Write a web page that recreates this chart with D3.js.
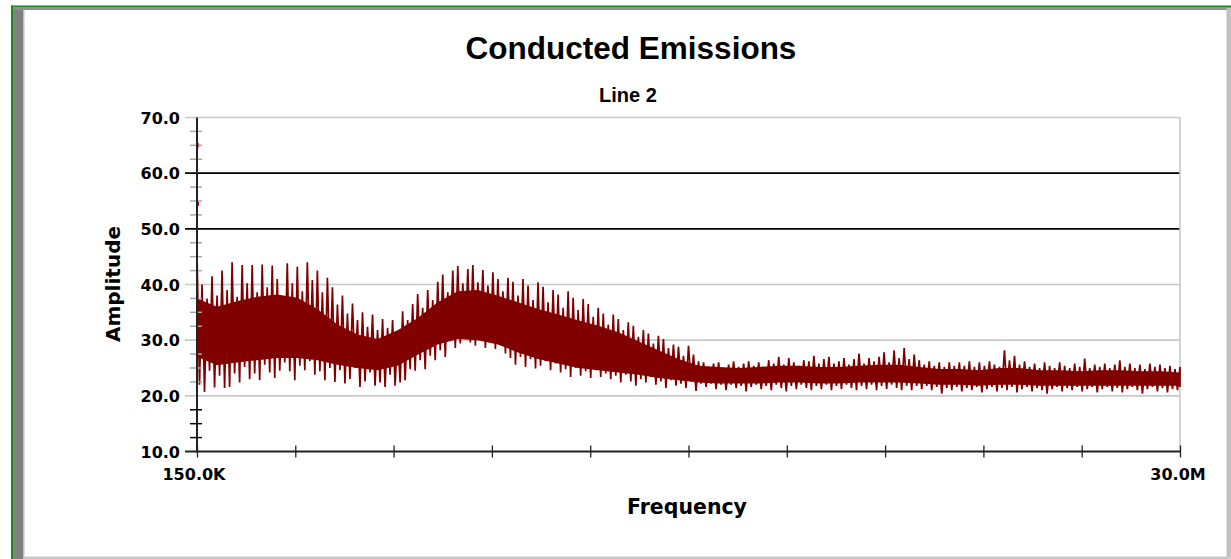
<!doctype html>
<html>
<head>
<meta charset="utf-8">
<title>Conducted Emissions</title>
<script src="https://d3js.org/d3.v7.min.js"></script>
<style>
  body { margin: 0; background: #fff; }
  svg { display: block; }
  text { font-weight: bold; fill: #000; }
</style>
</head>
<body>
<script>
// analyser sweep, MHz
var sweepStart = 0.15, sweepStop = 30.0;
var yTicks = [10, 20, 30, 40, 50, 60, 70];
var limitLines = [50, 60];
var xTickLabels = ["150.0K", "30.0M"];

// odd readings right at 150 kHz
var startSpikes = [65.0, 54.5];

// spike tops / bottoms, one pair per sweep bin
var peakHi = [
  45.5, 40.0, 37.5, 41.5, 38.0, 42.5, 39.0, 44.0, 37.8, 43.5,
  40.2, 43.5, 38.6, 43.6, 39.5, 43.4, 41.0, 37.8, 43.8, 40.2,
  43.2, 38.8, 44.0, 40.8, 42.5, 38.6, 41.2,
  39.5, 36.4, 38.0, 34.8, 36.6, 33.6, 35.0, 32.4, 34.6, 31.8,
  33.8, 32.2, 33.6, 31.6,
  35.2, 33.6, 36.5, 38.3, 35.8, 39.0, 37.2, 40.5, 41.8, 38.6,
  42.5, 43.3, 40.2, 42.8, 43.5, 40.4, 42.6, 39.8, 42.2, 41.0,
  38.8, 41.2, 40.5, 38.0, 41.0, 39.8, 37.2, 40.4, 39.6, 36.8,
  39.0, 38.2, 35.8, 38.8, 37.6, 35.4, 37.4, 36.5, 34.2, 35.8,
  34.8, 32.8, 34.6, 33.8, 31.8, 33.2, 32.6, 30.6, 31.8, 31.2,
  29.4, 30.8, 30.2, 28.6, 29.2, 28.8, 27.2, 29.0, 27.4, 26.2,
  26.0, 25.2, 25.8, 26.0, 25.0, 25.6, 26.2, 25.2, 25.8, 26.2,
  25.4, 26.0, 25.2, 26.4, 25.8, 27.0, 25.6, 26.8, 26.0, 25.4,
  26.4, 26.2, 27.2, 25.8, 26.6, 27.0, 25.8, 26.2, 26.8, 25.6,
  26.6, 27.6, 25.8, 26.8, 26.2, 27.0, 27.8, 26.0, 28.2, 26.8,
  28.6, 26.6, 27.4, 26.4, 25.6, 26.2, 25.4, 26.0, 25.2, 26.0,
  25.4, 26.0, 25.4, 26.2, 25.2, 26.0, 25.4, 26.2, 25.6, 25.2,
  28.2, 26.4, 27.2, 25.6, 26.2, 25.2, 25.8, 25.0, 26.0, 25.4,
  25.0, 26.0, 25.4, 25.0, 25.8, 25.2, 26.7, 25.0, 25.6, 25.2,
  25.8, 25.0, 25.6, 26.4, 25.2, 25.8, 25.0, 25.6, 24.8, 25.8,
  25.2, 25.6, 25.0, 25.4, 24.8, 25.2
];
var peakLo = [
  22.0, 20.7, 24.5, 21.5, 23.6, 21.4, 21.6, 24.0, 22.4, 25.2,
  23.0, 24.0, 22.8, 25.6, 24.2, 23.2, 24.5, 26.0, 24.4, 22.8,
  25.4, 24.6, 26.2, 23.8, 24.4, 22.8, 25.0,
  22.5, 24.6, 22.2, 23.0, 25.0, 21.6, 22.6, 24.2, 21.8, 22.4,
  21.6, 23.8, 21.8, 22.4,
  22.8, 24.8, 24.5, 26.4, 24.8, 27.2, 26.4, 28.2, 27.0, 29.8,
  28.6, 29.4, 30.6, 29.6, 29.0, 30.4, 28.6, 29.6, 28.4, 29.8,
  27.6, 26.8, 25.6, 27.0, 25.2, 26.6, 24.9, 25.4, 26.2, 24.6,
  25.8, 24.2, 24.8, 23.4, 25.0, 23.6, 24.4, 23.2, 24.6, 23.4,
  24.0, 23.0, 23.6, 22.4, 23.8, 22.6, 21.8, 23.0, 22.4, 23.4,
  22.0, 22.6, 21.4, 22.8, 21.8, 22.2, 21.4, 22.6, 20.9, 22.2,
  21.6, 22.2, 21.2, 22.0, 21.0, 22.0, 21.4, 21.8, 20.8, 21.6,
  22.0, 21.2, 21.8, 21.0, 22.0, 21.4, 20.8, 21.8, 21.2, 22.0,
  21.4, 21.0, 21.8, 21.2, 22.0, 21.0, 21.8, 21.2, 22.0, 21.4,
  21.0, 21.8, 21.2, 22.0, 21.0, 21.8, 21.2, 22.0, 21.4, 21.0,
  21.8, 21.0, 21.8, 21.2, 21.8, 21.0, 21.6, 20.4, 21.4, 21.0,
  21.6, 20.8, 21.4, 21.0, 21.6, 20.6, 21.2, 21.6, 20.8, 21.4,
  21.0, 21.6, 20.6, 21.2, 21.6, 20.8, 21.4, 21.0, 20.4, 21.2,
  21.6, 20.8, 21.4, 21.0, 21.6, 20.8, 21.2, 21.6, 20.6, 21.2,
  21.6, 20.8, 21.4, 20.6, 21.2, 21.6, 21.0, 20.4, 21.2, 21.6,
  20.8, 21.4, 20.6, 21.2, 21.0, 21.6
];

// solid band of the trace, every 4th bin
var coreHi = [
  37.5, 36.0, 37.0, 37.8, 38.2, 37.6, 35.6, 32.8, 31.0, 30.2,
  31.8, 34.0, 36.8, 38.8, 39.0, 38.0, 36.8, 35.6, 34.6, 33.6,
  32.6, 31.4, 29.8, 28.2, 26.6, 25.4, 25.2, 25.0, 25.2, 25.4,
  25.4, 25.2, 25.2, 25.4, 25.6, 25.6, 25.2, 24.8, 24.8, 24.6,
  25.0, 25.0, 24.6, 24.6, 24.4, 24.6, 24.6, 24.4, 24.4, 24.2
];
var coreLo = [
  27.0, 25.5, 26.0, 26.4, 26.8, 26.8, 26.4, 25.6, 25.0, 24.6,
  25.4, 27.4, 29.2, 30.2, 30.0, 29.2, 27.8, 26.6, 25.8, 25.0,
  24.6, 24.2, 23.8, 23.2, 22.8, 22.4, 22.2, 22.2, 22.2, 22.4,
  22.4, 22.2, 22.2, 22.4, 22.4, 22.4, 22.2, 22.0, 22.0, 21.8,
  22.0, 22.0, 21.8, 21.8, 21.8, 21.8, 21.8, 21.8, 21.8, 21.8
];

var W = 1231, H = 559;
var traceColor = "#800000";
var gridColor = "#c8c8c8";
var sansWide = "'DejaVu Sans', sans-serif";
var sansArial = "'Liberation Sans', Arial, sans-serif";

var svg = d3.select("body").append("svg")
    .attr("width", W)
    .attr("height", H);

// window frame
svg.append("rect").attr("x", 11).attr("y", 6).attr("width", W - 11).attr("height", H - 6).attr("fill", "#fff");
svg.append("rect").attr("x", 13).attr("y", 8).attr("width", 10).attr("height", H - 8).attr("fill", "#808080");
svg.append("rect").attr("x", 23).attr("y", 8).attr("width", 1.5).attr("height", H - 8).attr("fill", "#c0c0c0");
svg.append("rect").attr("x", 13).attr("y", 7.5).attr("width", W - 13).attr("height", 2.5).attr("fill", "#909090");
svg.append("rect").attr("x", 1226.5).attr("y", 8).attr("width", 4.5).attr("height", H - 8).attr("fill", "#c0c0c0");
svg.append("rect").attr("x", 24).attr("y", 556.5).attr("width", W - 24).attr("height", 2.5).attr("fill", "#c8c8c8");
svg.append("rect").attr("x", 11).attr("y", 5.5).attr("width", W - 11).attr("height", 2).attr("fill", "#1a8a1a");
svg.append("rect").attr("x", 11).attr("y", 5.5).attr("width", 2).attr("height", H - 5.5).attr("fill", "#1a8a1a");

var x = d3.scaleLinear().domain([sweepStart, sweepStop]).range([197, 1180]);
var y = d3.scaleLinear().domain([10, 70]).range([451.5, 117.5]);

var nBins = peakHi.length;
var binStep = (sweepStop - sweepStart) / (nBins - 1);
function freq(k) { return sweepStart + k * binStep; }

// horizontal grid + limit lines
svg.append("g").selectAll("line")
    .data(yTicks.filter(function(d) { return d > 10; }))
    .enter().append("line")
    .attr("x1", 185).attr("x2", x(sweepStop))
    .attr("y1", function(d) { return y(d); })
    .attr("y2", function(d) { return y(d); })
    .attr("stroke", function(d) { return limitLines.indexOf(d) >= 0 ? "#000" : gridColor; })
    .attr("stroke-width", 1.6);

// right border of plot
svg.append("line")
    .attr("x1", x(sweepStop)).attr("x2", x(sweepStop))
    .attr("y1", y(70)).attr("y2", y(10))
    .attr("stroke", gridColor).attr("stroke-width", 1.6);

// trace: solid band
var core = coreHi.map(function(h, j) { return { f: freq(j * 4), hi: h, lo: coreLo[j] }; });
svg.append("path")
    .datum(core)
    .attr("fill", traceColor)
    .attr("d", d3.area()
        .x(function(d) { return x(d.f); })
        .y0(function(d) { return y(d.lo); })
        .y1(function(d) { return y(d.hi); }));

// trace: spikes, zig-zag between tops and bottoms
var half = (x(freq(1)) - x(freq(0))) / 2;
var pts = [];
peakHi.forEach(function(h, k) {
    pts.push([x(freq(k)), y(h)]);
    pts.push([Math.min(x(freq(k)) + half, x(sweepStop)), y(peakLo[k])]);
});
svg.append("path")
    .datum(pts)
    .attr("fill", "none")
    .attr("stroke", traceColor)
    .attr("stroke-width", 1.7)
    .attr("stroke-linejoin", "miter")
    .attr("d", d3.line());

// the two readings at the very start
svg.append("g").selectAll("rect")
    .data(startSpikes)
    .enter().append("rect")
    .attr("x", x(sweepStart) - 1)
    .attr("y", function(d) { return y(d) - 2; })
    .attr("width", 3).attr("height", 4)
    .attr("fill", "#b00000");

// y axis minor ticks
var minor = d3.range(10, 70, 2.5).filter(function(d) { return d % 10 !== 0; });
svg.append("g").selectAll("line")
    .data(minor)
    .enter().append("line")
    .attr("x1", 190).attr("x2", 202)
    .attr("y1", function(d) { return y(d); })
    .attr("y2", function(d) { return y(d); })
    .attr("stroke", function(d) { return d < 20 ? "#000" : "#a8a8a8"; })
    .attr("stroke-width", 1.5);

// y axis
var yAxis = svg.append("g")
    .attr("transform", "translate(" + x(sweepStart) + ",0)")
    .call(d3.axisLeft(y).tickValues(yTicks).tickSize(12).tickPadding(5).tickFormat(d3.format(".1f")));
yAxis.select(".domain").remove();
yAxis.selectAll(".tick line").attr("stroke", "none");
yAxis.selectAll(".tick text")
    .attr("dy", "0.36em")
    .style("font-family", sansWide)
    .style("font-size", "16px")
    .style("font-weight", "bold");
svg.append("line")
    .attr("x1", x(sweepStart)).attr("x2", x(sweepStart))
    .attr("y1", y(70)).attr("y2", y(10) + 1)
    .attr("stroke", "#222").attr("stroke-width", 2);

// x axis
var xTickVals = d3.range(11).map(function(i) { return sweepStart + i * (sweepStop - sweepStart) / 10; });
var xAxis = svg.append("g")
    .attr("transform", "translate(0," + y(10) + ")")
    .call(d3.axisBottom(x).tickValues(xTickVals).tickSize(6).tickFormat(""));
xAxis.select(".domain").remove();
xAxis.selectAll(".tick line").attr("y1", -6).attr("y2", 6).attr("stroke", "#222").attr("stroke-width", 1.3);
svg.append("line")
    .attr("x1", 185).attr("x2", x(sweepStop))
    .attr("y1", y(10)).attr("y2", y(10))
    .attr("stroke", "#222").attr("stroke-width", 2);

svg.append("g").selectAll("text")
    .data([sweepStart, sweepStop])
    .enter().append("text")
    .attr("x", function(d, i) { return x(d) + (i === 0 ? -3 : -2); })
    .attr("y", 480)
    .attr("text-anchor", "middle")
    .style("font-family", sansWide)
    .style("font-size", "16px")
    .text(function(d, i) { return xTickLabels[i]; });

// titles
svg.append("text")
    .attr("x", 631).attr("y", 59)
    .attr("text-anchor", "middle")
    .style("font-family", sansArial)
    .style("font-size", "31.5px")
    .text("Conducted Emissions");
svg.append("text")
    .attr("x", 628).attr("y", 102)
    .attr("text-anchor", "middle")
    .style("font-family", sansArial)
    .style("font-size", "20px")
    .text("Line 2");
svg.append("text")
    .attr("x", 687).attr("y", 514)
    .attr("text-anchor", "middle")
    .style("font-family", sansWide)
    .style("font-size", "20.5px")
    .text("Frequency");
svg.append("text")
    .attr("transform", "translate(120,284) rotate(-90)")
    .attr("text-anchor", "middle")
    .style("font-family", sansWide)
    .style("font-size", "20px")
    .text("Amplitude");
</script>
</body>
</html>
